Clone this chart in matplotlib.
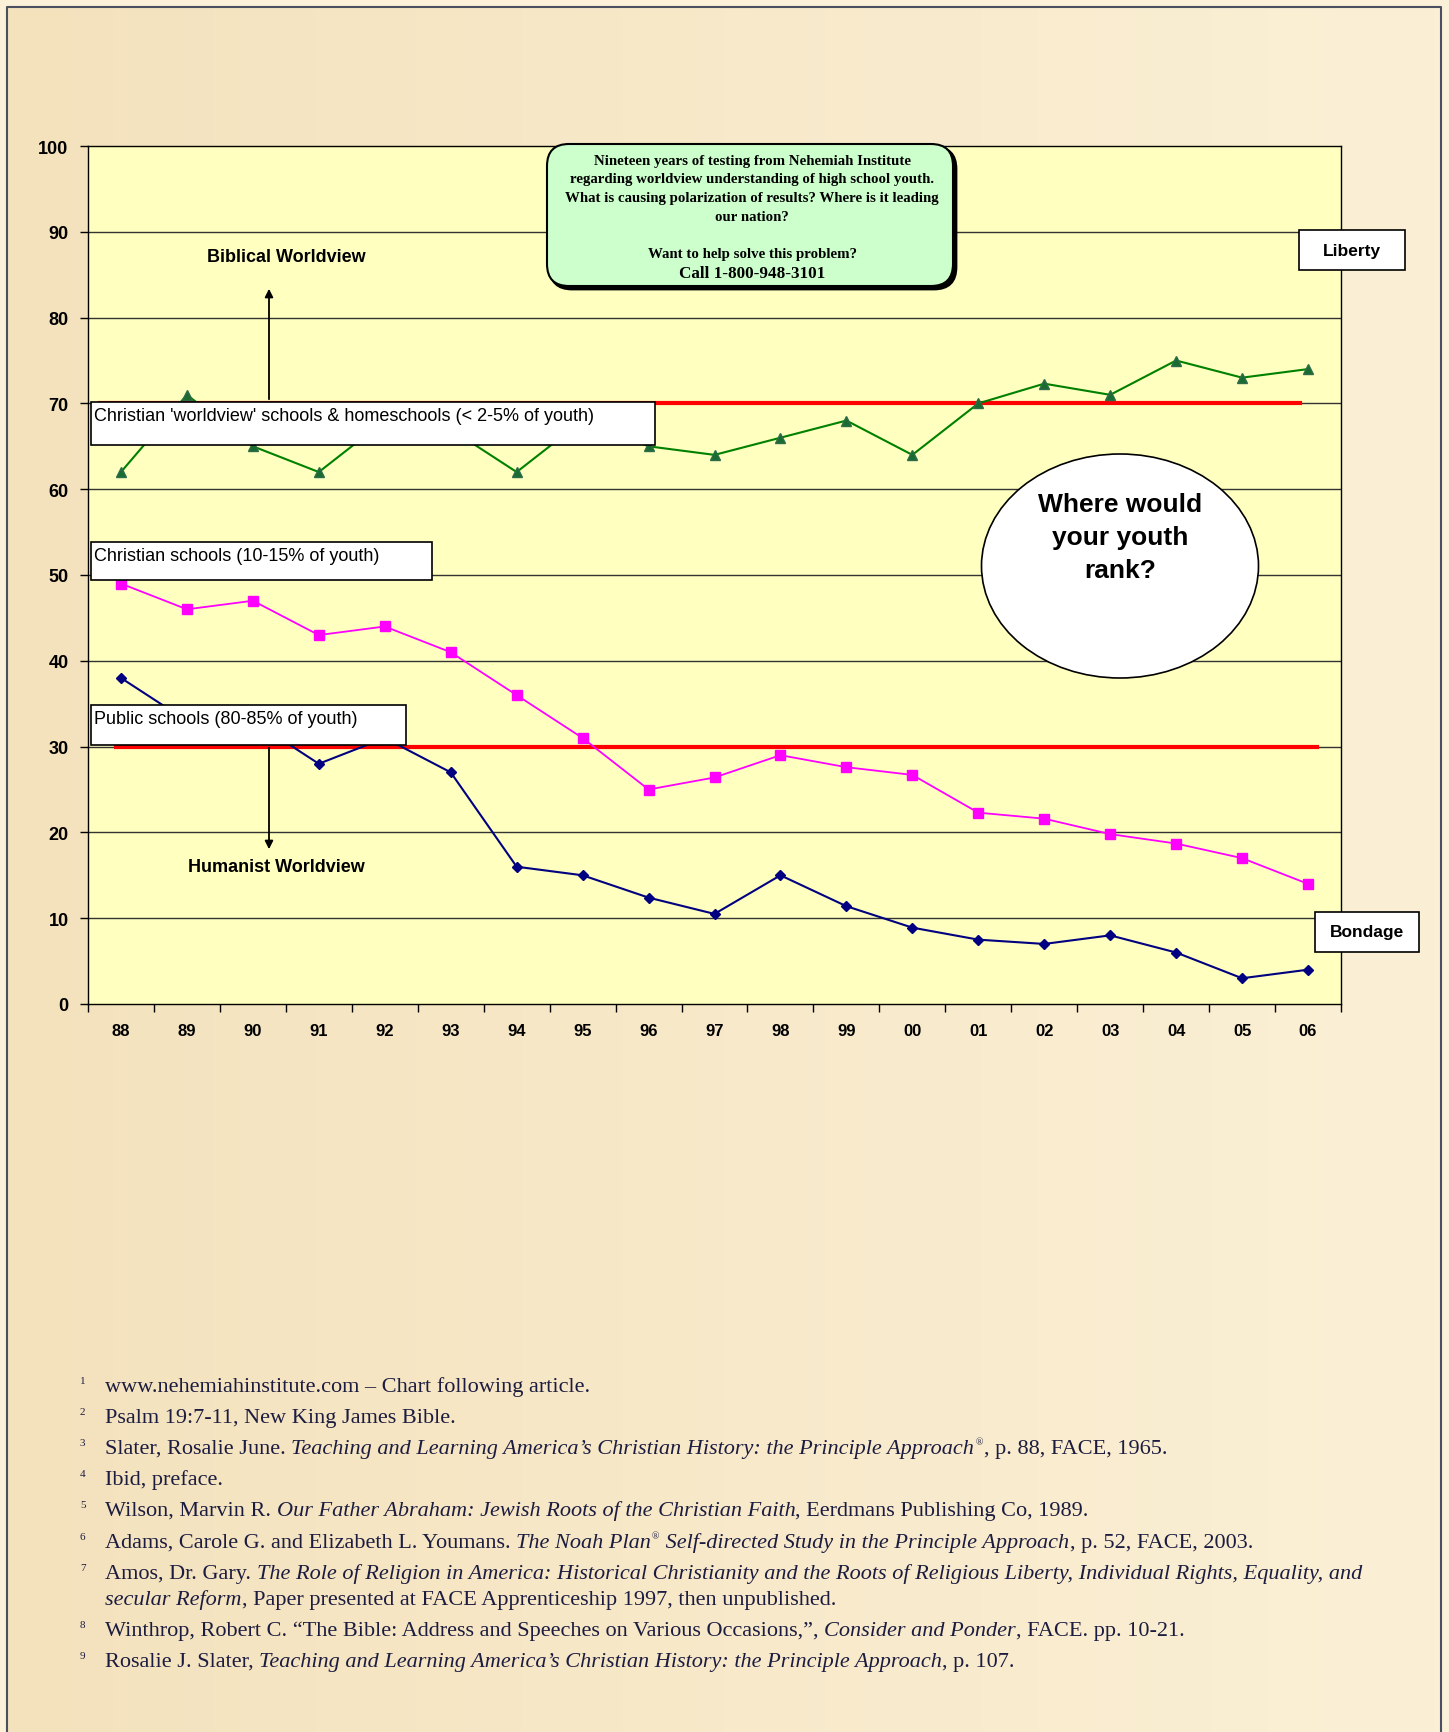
import numpy as np
import matplotlib
matplotlib.use("Agg")
import matplotlib.pyplot as plt
from matplotlib.patches import FancyBboxPatch, Rectangle, Ellipse

# data
years = ["88", "89", "90", "91", "92", "93", "94", "95", "96", "97",
         "98", "99", "00", "01", "02", "03", "04", "05", "06"]
worldview = [62, 71, 65, 62, 68, 67, 62, 68, 65, 64, 66, 68, 64, 70, 72.3, 71, 75, 73, 74]
christian = [49, 46, 47, 43, 44, 41, 36, 31, 25, 26.4, 29, 27.6, 26.7, 22.3, 21.6, 19.8, 18.7, 17, 14]
public = [38, 33, 33, 28, 31, 27, 16, 15, 12.4, 10.5, 15, 11.4, 8.9, 7.5, 7, 8, 6, 3, 4]
yticks = list(range(0, 101, 10))

W, H = 1449, 1733
fig = plt.figure(figsize=(W / 100, H / 100), dpi=100)
fig.patch.set_facecolor("#fbf0d8")


def fx(x):
    return x / W


def fy(y):
    return 1 - y / H


# page background with gradient
bg = fig.add_axes([0, 0, 1, 1], zorder=-5)
bg.axis("off")
grad = np.linspace(0, 1, 256).reshape(1, -1)
cmap = matplotlib.colors.LinearSegmentedColormap.from_list("pg", ["#f4e2bd", "#fbf0d6"])
bg.imshow(grad, cmap=cmap, extent=(7, 1441, H + 5, 8), aspect="auto", zorder=0)
bg.plot([7, 7, 1441, 1441], [H + 5, 8, 8, H + 5], color="#4a5060", lw=1.5, zorder=2)
bg.set_xlim(0, W)
bg.set_ylim(H, 0)

# main chart
ax = fig.add_axes([fx(88), fy(1005), fx(1341 - 88), (1005 - 147) / H])
ax.set_facecolor("#ffffc0")
x = np.arange(len(years))

for v in yticks[1:-1]:
    ax.axhline(v, color="#333333", lw=1.0, zorder=1)

ax.plot([-0.32, 17.88], [70, 70], color="#ff0000", lw=3, zorder=2)
ax.plot([-0.08, 18.13], [30, 30], color="#ff0000", lw=3, zorder=2)

ax.plot(x, worldview, color="#008000", lw=1.5, marker="^", ms=7,
        mfc="#1a6b30", mec="#2e6b4a", zorder=3)
ax.plot(x, christian, color="#ff00ff", lw=1.3, marker="s", ms=6.5,
        mfc="#ff00ff", mec="#ff00ff", zorder=3)
ax.plot(x, public, color="#000080", lw=1.5, marker="D", ms=5.5,
        mfc="#000080", mec="#000080", zorder=3)

ax.set_xlim(-0.5, len(years) - 0.5)
ax.set_ylim(0, 100)
ax.set_yticks(yticks)
ax.set_yticklabels([str(v) for v in yticks], fontsize=13, fontweight="bold",
                   family="Liberation Sans")
ax.set_xticks(x)
ax.set_xticklabels(years, fontsize=12, fontweight="bold", family="Liberation Sans")
ax.set_xticks(np.arange(-0.5, len(years)), minor=True)
ax.tick_params(axis="x", which="major", length=0, pad=14)
ax.tick_params(axis="x", which="minor", length=6, direction="out", width=1)
ax.tick_params(axis="y", length=6, direction="out", width=1, pad=8)
for s in ax.spines.values():
    s.set_color("black")
    s.set_linewidth(1.0)

# overlay for annotations in pixel coordinates
ov = fig.add_axes([0, 0, 1, 1], zorder=10)
ov.set_xlim(0, W)
ov.set_ylim(H, 0)
ov.axis("off")


def box(x0, y0, x1, y1, text, bold=False, center=False, size=13):
    ov.add_patch(Rectangle((x0, y0), x1 - x0, y1 - y0, fc="white", ec="black", lw=1.2))
    if center:
        ov.text((x0 + x1) / 2, (y0 + y1) / 2, text, ha="center", va="center",
                fontsize=size, fontweight="bold" if bold else "normal",
                family="Liberation Sans")
    else:
        ov.text(x0 + 3, y0 + 5, text, ha="left", va="top", fontsize=size,
                fontweight="bold" if bold else "normal", family="Liberation Sans")


box(91, 403, 655, 446, "Christian 'worldview' schools & homeschools (< 2-5% of youth)")
box(91, 543, 432, 581, "Christian schools (10-15% of youth)")
box(91, 706, 406, 746, "Public schools (80-85% of youth)")
box(1299, 231, 1405, 271, "Liberty", bold=True, center=True, size=12.5)
box(1315, 913, 1419, 953, "Bondage", bold=True, center=True, size=12.5)

ov.annotate("", xy=(269, 287), xytext=(269, 403),
            arrowprops=dict(arrowstyle="-|>", color="black", lw=1.3, mutation_scale=12))
ov.annotate("", xy=(269, 853), xytext=(269, 746),
            arrowprops=dict(arrowstyle="-|>", color="black", lw=1.3, mutation_scale=12))
ov.text(286, 257, "Biblical Worldview", ha="center", va="center", fontsize=13,
        fontweight="bold", family="Liberation Sans")
ov.text(276, 868, "Humanist Worldview", ha="center", va="center", fontsize=13,
        fontweight="bold", family="Liberation Sans")

# green info box with shadow
ov.add_patch(FancyBboxPatch((550, 148), 406, 142, boxstyle="round,pad=0,rounding_size=22",
                            fc="black", ec="black", lw=2))
ov.add_patch(FancyBboxPatch((547, 145), 406, 142, boxstyle="round,pad=0,rounding_size=22",
                            fc="#ccffcc", ec="black", lw=1.5))
info = ["Nineteen years of testing from Nehemiah Institute",
        "regarding worldview understanding of high school youth.",
        "What is causing polarization of results? Where is it leading",
        "our nation?"]
for i, ln in enumerate(info):
    ov.text(752, 161 + i * 18.7, ln, ha="center", va="center", fontsize=10.7,
            fontweight="bold", family="Liberation Serif")
ov.text(752, 254, "Want to help solve this problem?", ha="center", va="center",
        fontsize=10.7, fontweight="bold", family="Liberation Serif")
ov.text(752, 274, "Call 1-800-948-3101", ha="center", va="center",
        fontsize=12.3, fontweight="bold", family="Liberation Serif")

# ellipse
ov.add_patch(Ellipse((1120, 567), 277, 224, fc="white", ec="black", lw=1.2))
ov.text(1120, 538, "Where would\nyour youth\nrank?", ha="center", va="center",
        fontsize=19, fontweight="bold", family="Liberation Sans", linespacing=1.45)

# footnotes
renderer = fig.canvas.get_renderer()
ink = "#1c1c40"


def rich(x0, y0, parts, size=16):
    xc = x0
    for txt, style in parts:
        if style == "sup":
            t = ov.text(xc + 1, y0 - 9, txt, fontsize=7, color=ink,
                        family="Liberation Serif", va="baseline")
        else:
            t = ov.text(xc, y0, txt, fontsize=size, color=ink, family="Liberation Serif",
                        style="italic" if style == "i" else "normal", va="baseline")
        bb = t.get_window_extent(renderer)
        xc += bb.width + (2 if style == "sup" else 0)


notes = [
    ("1", [("www.nehemiahinstitute.com \u2013 Chart following article.", "n")]),
    ("2", [("Psalm 19:7-11, New King James Bible.", "n")]),
    ("3", [("Slater, Rosalie June. ", "n"),
           ("Teaching and Learning America\u2019s Christian History: the Principle Approach", "i"),
           ("\u00ae", "sup"), (", p. 88, FACE, 1965.", "n")]),
    ("4", [("Ibid, preface.", "n")]),
    ("5", [("Wilson, Marvin R. ", "n"),
           ("Our Father Abraham: Jewish Roots of the Christian Faith", "i"),
           (", Eerdmans Publishing Co, 1989.", "n")]),
    ("6", [("Adams, Carole G. and Elizabeth L. Youmans. ", "n"), ("The Noah Plan", "i"),
           ("\u00ae", "sup"), (" Self-directed Study in the Principle Approach", "i"),
           (", p. 52, FACE, 2003.", "n")]),
    ("7", [("Amos, Dr. Gary. ", "n"),
           ("The Role of Religion in America: Historical Christianity and the Roots of "
            "Religious Liberty, Individual Rights, Equality, and", "i")]),
    ("", [("secular Reform", "i"),
          (", Paper presented at FACE Apprenticeship 1997, then unpublished.", "n")]),
    ("8", [("Winthrop, Robert C. \u201cThe Bible: Address and Speeches on Various Occasions,\u201d, ", "n"),
           ("Consider and Ponder", "i"), (", FACE. pp. 10-21.", "n")]),
    ("9", [("Rosalie J. Slater, ", "n"),
           ("Teaching and Learning America\u2019s Christian History: the Principle Approach", "i"),
           (", p. 107.", "n")]),
]
baselines = [1392, 1423, 1454, 1485, 1516, 1548, 1579, 1605, 1636, 1667]
for (num, parts), yb in zip(notes, baselines):
    if num:
        ov.text(80, yb - 8, num, fontsize=8, color=ink, family="Liberation Serif",
                va="baseline")
    rich(105, yb, parts)

fig.savefig("out.png", dpi=100, facecolor=fig.get_facecolor())
